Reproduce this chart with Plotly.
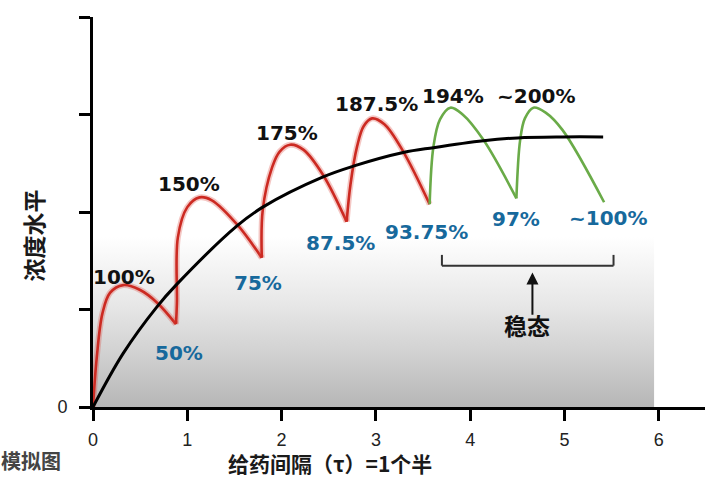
import plotly.graph_objects as go

# ---------------- data ----------------
# x in dosing intervals (tau), y in arbitrary concentration units (axis ticks = 1 unit)
cycle1_x = [0.00, 0.04, 0.10, 0.18, 0.32, 0.50, 0.68, 0.88]
cycle1_y = [0.00, 0.51, 0.96, 1.17, 1.25, 1.20, 1.07, 0.85]
cycle2_x = [0.88, 0.89, 0.90, 1.00, 1.13, 1.26, 1.53, 1.79]
cycle2_y = [0.85, 1.07, 1.74, 2.05, 2.15, 2.12, 1.87, 1.53]
cycle3_x = [1.79, 1.80, 1.90, 1.98, 2.09, 2.23, 2.44, 2.69]
cycle3_y = [1.53, 2.02, 2.46, 2.62, 2.69, 2.64, 2.38, 1.90]
cycle4_x = [2.69, 2.73, 2.80, 2.87, 2.96, 3.09, 3.29, 3.57]
cycle4_y = [1.90, 2.28, 2.67, 2.88, 2.96, 2.90, 2.62, 2.08]
cycle5_x = [3.57, 3.61, 3.68, 3.79, 3.92, 4.14, 4.49]
cycle5_y = [2.08, 2.67, 2.95, 3.07, 3.00, 2.74, 2.14]
cycle6_x = [4.49, 4.53, 4.58, 4.67, 4.80, 4.98, 5.42]
cycle6_y = [2.14, 2.74, 2.96, 3.07, 3.02, 2.84, 2.10]

mean_x = [0.00, 0.32, 0.68, 0.89, 1.53, 1.80, 2.44, 2.76, 3.29, 3.61, 4.14, 4.50, 4.98, 5.41]
mean_y = [0.00, 0.55, 1.03, 1.26, 1.86, 2.05, 2.36, 2.47, 2.61, 2.66, 2.73, 2.76, 2.77, 2.77]

peak_labels = ["100%", "150%", "175%", "187.5%", "194%", "~200%"]
trough_labels = ["50%", "75%", "87.5%", "93.75%", "97%", "~100%"]

x_ticks = [0, 1, 2, 3, 4, 5, 6]
y_ticks = [0, 1, 2, 3, 4]

# ---------------- style ----------------
RED = "#cc2a22"
GREEN = "#6aab48"
BLUE = "#17699c"
LABEL_FONT = "DejaVu Sans"
CJK = "Noto Sans CJK SC"

cycles_x = [cycle1_x, cycle2_x, cycle3_x, cycle4_x, cycle5_x, cycle6_x]
cycles_y = [cycle1_y, cycle2_y, cycle3_y, cycle4_y, cycle5_y, cycle6_y]
cycle_colors = [RED, RED, RED, RED, GREEN, GREEN]

fig = go.Figure()

# gradient background panel
bg_x0, bg_x1, bg_top = 0.0, 5.95, 1.75
fig.add_trace(go.Scatter(
    x=[bg_x0, bg_x1, bg_x1, bg_x0, bg_x0], y=[0, 0, bg_top, bg_top, 0],
    mode="lines", line=dict(width=0), fill="toself",
    fillgradient=dict(type="vertical", start=0, stop=bg_top,
                      colorscale=[[0, "#b6b6b6"], [0.3, "#d0d0d0"],
                                  [0.6, "#e7e7e7"], [1, "#ffffff"]]),
    hoverinfo="skip", showlegend=False))

# dose cycles
for cx, cy, col in zip(cycles_x, cycles_y, cycle_colors):
    if col == RED:
        fig.add_trace(go.Scatter(x=cx, y=cy, mode="lines",
                                 line=dict(color="rgba(220,70,60,0.30)", width=6, shape="spline", smoothing=1.0),
                                 hoverinfo="skip", showlegend=False, cliponaxis=False))
    fig.add_trace(go.Scatter(x=cx, y=cy, mode="lines",
                             line=dict(color=col, width=2.6, shape="spline", smoothing=1.0),
                             showlegend=False, cliponaxis=False))

# mean (average) concentration curve
fig.add_trace(go.Scatter(x=mean_x, y=mean_y, mode="lines",
                         line=dict(color="#000000", width=3, shape="spline", smoothing=1.0),
                         showlegend=False, cliponaxis=False))

annotations = []
# peak labels: anchored to each cycle's maximum
peak_dx = [1, -11, -3, 4, 3, 3]
peak_dy = [8, 13, 12, 14, 12, 12]
for lab, cx, cy, dx, dy in zip(peak_labels, cycles_x, cycles_y, peak_dx, peak_dy):
    i = cy.index(max(cy))
    annotations.append(dict(x=cx[i], y=cy[i], text=f"<b>{lab}</b>", showarrow=False,
                            xanchor="center", yanchor="middle", xshift=dx, yshift=dy,
                            font=dict(family=LABEL_FONT, size=20, color="#111111")))
# trough labels: anchored to each cycle's end point
trough_dx = [3, -4, -6, -3, 0, 4]
trough_dy = [-29, -25, -21, -28, -21, -16]
for lab, cx, cy, dx, dy in zip(trough_labels, cycles_x, cycles_y, trough_dx, trough_dy):
    annotations.append(dict(x=cx[-1], y=cy[-1], text=f"<b>{lab}</b>", showarrow=False,
                            xanchor="center", yanchor="middle", xshift=dx, yshift=dy,
                            font=dict(family=LABEL_FONT, size=20, color=BLUE)))

# steady state bracket and arrow
br_x0, br_x1, br_y, br_h = 3.70, 5.52, 1.45, 0.11
shapes = [
    dict(type="line", x0=br_x0, x1=br_x1, y0=br_y, y1=br_y, line=dict(color="#333", width=2)),
    dict(type="line", x0=br_x0, x1=br_x0, y0=br_y, y1=br_y + br_h, line=dict(color="#333", width=2)),
    dict(type="line", x0=br_x1, x1=br_x1, y0=br_y, y1=br_y + br_h, line=dict(color="#333", width=2)),
]
annotations.append(dict(x=4.66, y=1.38, ax=4.66, ay=0.93, xref="x", yref="y", axref="x", ayref="y",
                        showarrow=True, arrowhead=2, arrowsize=1.2, arrowwidth=2, arrowcolor="#111",
                        text=""))
annotations.append(dict(x=4.60, y=0.84, text="<b>稳态</b>", showarrow=False,
                        xanchor="center", yanchor="middle",
                        font=dict(family=CJK, size=23, color="#111111")))

# axis titles / captions
annotations.append(dict(xref="paper", yref="paper", x=-0.098, y=0.44, text="<b>浓度水平</b>",
                        textangle=-90, showarrow=False, xanchor="center", yanchor="middle",
                        font=dict(family=CJK, size=23, color="#1a1a1a")))
annotations.append(dict(xref="paper", yref="paper", x=-0.101, y=-0.136, text="<b>模拟图</b>",
                        showarrow=False, xanchor="center", yanchor="middle",
                        font=dict(family=CJK, size=20, color="#444444")))
annotations.append(dict(xref="paper", yref="paper", x=0.217, y=-0.144, xanchor="left",
                        yanchor="middle", text="<b>给药间隔（τ）=1个半</b>",
                        showarrow=False, font=dict(family=CJK, size=21, color="#1a1a1a")))

fig.update_layout(
    width=719, height=480,
    margin=dict(l=93, r=14, t=17, b=73),
    paper_bgcolor="white", plot_bgcolor="white",
    shapes=shapes, annotations=annotations,
    xaxis=dict(range=[0, 6.49], tickvals=x_ticks, ticktext=[str(v) for v in x_ticks],
               showgrid=False, zeroline=False, showline=True, linecolor="#000", linewidth=3,
               ticks="outside", ticklen=11, tickwidth=3, tickcolor="#000",
               ticklabelstandoff=3,
               tickfont=dict(family="Liberation Sans", size=18, color="#222")),
    yaxis=dict(range=[0, 4], tickvals=y_ticks, ticktext=["0", "", "", "", ""],
               showgrid=False, zeroline=False, showline=True, linecolor="#000", linewidth=3,
               ticks="outside", ticklen=11, tickwidth=3, tickcolor="#000",
               ticklabelstandoff=8,
               tickfont=dict(family="Liberation Sans", size=18, color="#222")),
)

fig.write_html("out.html", config={"displayModeBar": False},
               post_script="document.body.style.margin='0';document.body.style.overflow='hidden';")
